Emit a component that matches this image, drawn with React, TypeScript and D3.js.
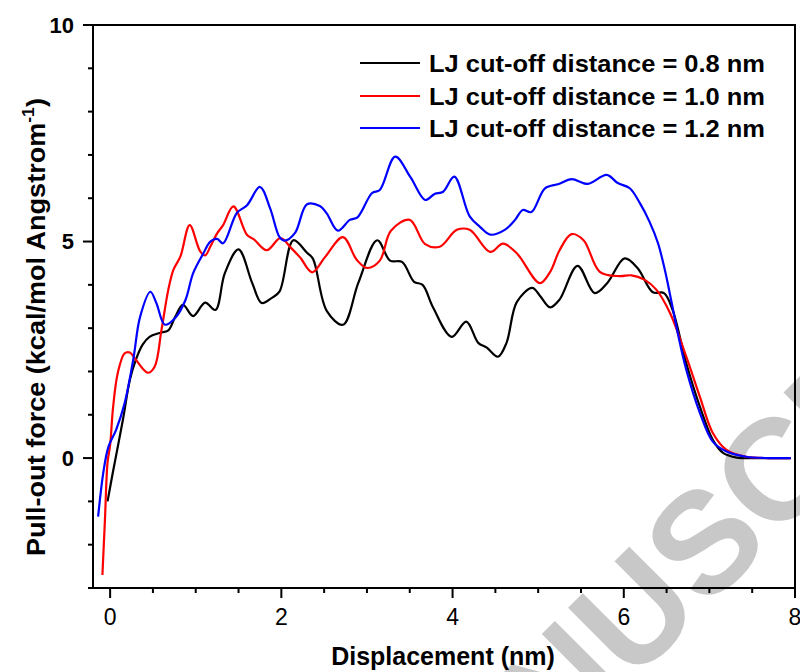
import React from "react";
import * as d3 from "d3";

const W = 800;
const H = 672;

const xDomain: [number, number] = [-0.2, 8];
const yDomain: [number, number] = [-3, 10];
const xMajorTicks = [0, 2, 4, 6, 8];
const yMajorTicks = [0, 5, 10];

const seriesNames = [
  "LJ cut-off distance = 0.8 nm",
  "LJ cut-off distance = 1.0 nm",
  "LJ cut-off distance = 1.2 nm",
];
const seriesColors = ["#000000", "#ff0000", "#0000ff"];

// LJ cut-off 0.8 nm
const black08: [number, number][] = [
  [-0.03, -1.0], [0.03, -0.35], [0.15, 0.89], [0.23, 1.8], [0.3, 2.27], [0.38, 2.62],
  [0.46, 2.8], [0.58, 2.89], [0.68, 2.95], [0.76, 3.26], [0.85, 3.54], [0.97, 3.28],
  [1.11, 3.59], [1.23, 3.42], [1.34, 4.27], [1.5, 4.82], [1.66, 4.04], [1.77, 3.58],
  [1.89, 3.7], [1.98, 3.85], [2.14, 5.03], [2.3, 4.74], [2.37, 4.6], [2.53, 3.4],
  [2.72, 3.08], [2.9, 4.05], [3.12, 5.03], [3.27, 4.56], [3.41, 4.53], [3.55, 4.07],
  [3.65, 4.0], [3.77, 3.49], [3.99, 2.8], [4.16, 3.15], [4.3, 2.66], [4.4, 2.55],
  [4.53, 2.34], [4.63, 2.66], [4.75, 3.6], [4.93, 3.93], [5.02, 3.75], [5.14, 3.48],
  [5.25, 3.66], [5.46, 4.44], [5.66, 3.81], [5.81, 4.05], [6.01, 4.61], [6.16, 4.39],
  [6.34, 3.83], [6.47, 3.81], [6.57, 3.42], [6.73, 2.19], [6.89, 1.18], [7.04, 0.42],
  [7.16, 0.12], [7.32, 0.01], [7.6, 0.0], [7.95, 0.0],
];

// LJ cut-off 1.0 nm
const red10: [number, number][] = [
  [-0.09, -2.7], [-0.06, -1.4], [-0.03, -0.1], [0.0, 0.3], [0.035, 1.18], [0.09, 1.97],
  [0.17, 2.42], [0.23, 2.44], [0.3, 2.27], [0.44, 1.97], [0.52, 2.11], [0.6, 2.96],
  [0.68, 3.89], [0.74, 4.35], [0.82, 4.65], [0.93, 5.38], [1.05, 4.78], [1.11, 4.68],
  [1.17, 4.88], [1.25, 5.19], [1.32, 5.38], [1.44, 5.81], [1.6, 5.15], [1.68, 5.05],
  [1.83, 4.8], [1.99, 5.08], [2.11, 4.86], [2.22, 4.63], [2.36, 4.29], [2.51, 4.64],
  [2.72, 5.1], [2.88, 4.58], [3.0, 4.39], [3.15, 4.56], [3.28, 5.25], [3.5, 5.5],
  [3.68, 4.94], [3.85, 4.88], [4.05, 5.27], [4.2, 5.27], [4.44, 4.76], [4.59, 4.95],
  [4.75, 4.73], [5.02, 4.04], [5.14, 4.3], [5.25, 4.8], [5.39, 5.17], [5.53, 5.03],
  [5.72, 4.3], [5.95, 4.2], [6.09, 4.22], [6.24, 4.12], [6.38, 3.89], [6.54, 3.35],
  [6.73, 2.34], [6.89, 1.41], [7.04, 0.58], [7.2, 0.19], [7.43, 0.03], [7.7, 0.0],
  [7.95, 0.0],
];

// LJ cut-off 1.2 nm
const blue12: [number, number][] = [
  [-0.14, -1.35], [-0.08, -0.34], [-0.02, 0.26], [0.07, 0.65], [0.17, 1.27], [0.27, 2.27],
  [0.35, 3.26], [0.47, 3.84], [0.54, 3.58], [0.64, 3.08], [0.77, 3.26], [0.88, 3.65],
  [0.97, 4.27], [1.09, 4.73], [1.17, 5.0], [1.25, 5.06], [1.32, 4.96], [1.48, 5.66],
  [1.6, 5.84], [1.75, 6.26], [1.87, 5.76], [1.98, 5.1], [2.04, 5.02], [2.16, 5.2],
  [2.3, 5.86], [2.45, 5.82], [2.53, 5.65], [2.66, 5.25], [2.8, 5.5], [2.89, 5.56],
  [3.06, 6.12], [3.15, 6.19], [3.33, 6.96], [3.51, 6.48], [3.68, 5.96], [3.79, 6.1],
  [3.89, 6.15], [4.02, 6.5], [4.2, 5.58], [4.32, 5.34], [4.44, 5.16], [4.61, 5.27],
  [4.73, 5.5], [4.82, 5.73], [4.92, 5.68], [5.08, 6.23], [5.24, 6.33], [5.39, 6.44],
  [5.58, 6.33], [5.8, 6.54], [5.93, 6.35], [6.07, 6.23], [6.19, 5.88], [6.3, 5.46],
  [6.4, 4.96], [6.48, 4.34], [6.56, 3.58], [6.63, 2.89], [6.73, 2.04], [6.89, 1.04],
  [7.04, 0.38], [7.2, 0.15], [7.43, 0.03], [7.7, 0.0], [7.95, 0.0],
];

const allSeries = [black08, red10, blue12];

const FONT = "'Liberation Sans', Arial, Helvetica, sans-serif";

export default function App() {
  const left = 93;
  const right = 795;
  const top = 25;
  const bottom = 588;

  const x = d3.scaleLinear().domain(xDomain).range([left, right]);
  const y = d3.scaleLinear().domain(yDomain).range([bottom, top]);

  const line = d3
    .line<[number, number]>()
    .x((d) => x(d[0]))
    .y((d) => y(d[1]))
    .curve(d3.curveCatmullRom.alpha(0.5));

  const xMinor = d3.range(0, 8.001, 0.5).filter((v) => !xMajorTicks.includes(v));
  const yMinor = d3.range(-3, 10.001, 1).filter((v) => !yMajorTicks.includes(v));

  const legendY = [63, 96, 128];

  return (
    <svg
      width={W}
      height={H}
      viewBox={`0 0 ${W} ${H}`}
      style={{ position: "absolute", left: 0, top: 0, background: "#fff" }}
      fontFamily={FONT}
    >
      <rect x={0} y={0} width={W} height={H} fill="#fff" />
      {/* watermark */}
      <text
        transform="translate(400,916) rotate(-45)"
        fontSize={144}
        fontWeight="bold"
        fill="#c8c8c8"
      >
        MANUSCRIPT
      </text>

      {/* curves */}
      {allSeries.map((s, i) => (
        <path
          key={i}
          d={line(s) || ""}
          fill="none"
          stroke={seriesColors[i]}
          strokeWidth={2.2}
          strokeLinejoin="round"
        />
      ))}

      {/* frame */}
      <rect
        x={left}
        y={top}
        width={right - left}
        height={bottom - top}
        fill="none"
        stroke="#000"
        strokeWidth={2}
      />

      {/* x ticks */}
      {xMinor.map((v) => (
        <line key={"xm" + v} x1={x(v)} x2={x(v)} y1={bottom} y2={bottom + 5} stroke="#000" strokeWidth={2} />
      ))}
      {xMajorTicks.map((v) => (
        <g key={"xM" + v}>
          <line x1={x(v)} x2={x(v)} y1={bottom} y2={bottom + 10} stroke="#000" strokeWidth={2} />
          <text x={x(v)} y={625} textAnchor="middle" fontSize={23} fill="#000">
            {v}
          </text>
        </g>
      ))}

      {/* y ticks */}
      {yMinor.map((v) => (
        <line key={"ym" + v} x1={left - 5} x2={left} y1={y(v)} y2={y(v)} stroke="#000" strokeWidth={2} />
      ))}
      {yMajorTicks.map((v) => (
        <g key={"yM" + v}>
          <line x1={left - 10} x2={left} y1={y(v)} y2={y(v)} stroke="#000" strokeWidth={2} />
          <text
            x={74}
            y={y(v)}
            dy="0.36em"
            textAnchor="end"
            fontSize={22}
            fontWeight="bold"
            fill="#000"
          >
            {v}
          </text>
        </g>
      ))}

      {/* axis titles */}
      <text x={443} y={665} textAnchor="middle" fontSize={25} fontWeight="bold" fill="#000">
        Displacement (nm)
      </text>
      <text
        transform="translate(45,327) rotate(-90)"
        textAnchor="middle"
        fontSize={26}
        fontWeight="bold"
        fill="#000"
        textLength={458}
        lengthAdjust="spacingAndGlyphs"
      >
        Pull-out force (kcal/mol Angstrom
        <tspan fontSize={17} dy={-11}>-1</tspan>
        <tspan dy={11}>)</tspan>
      </text>

      {/* legend */}
      {seriesNames.map((name, i) => (
        <g key={name}>
          <line
            x1={360}
            x2={420}
            y1={legendY[i]}
            y2={legendY[i]}
            stroke={seriesColors[i]}
            strokeWidth={2.2}
          />
          <text
            x={429}
            y={legendY[i] + 9}
            fontSize={24}
            fontWeight="bold"
            fill="#000"
            textLength={336}
            lengthAdjust="spacingAndGlyphs"
          >
            {name}
          </text>
        </g>
      ))}
    </svg>
  );
}
